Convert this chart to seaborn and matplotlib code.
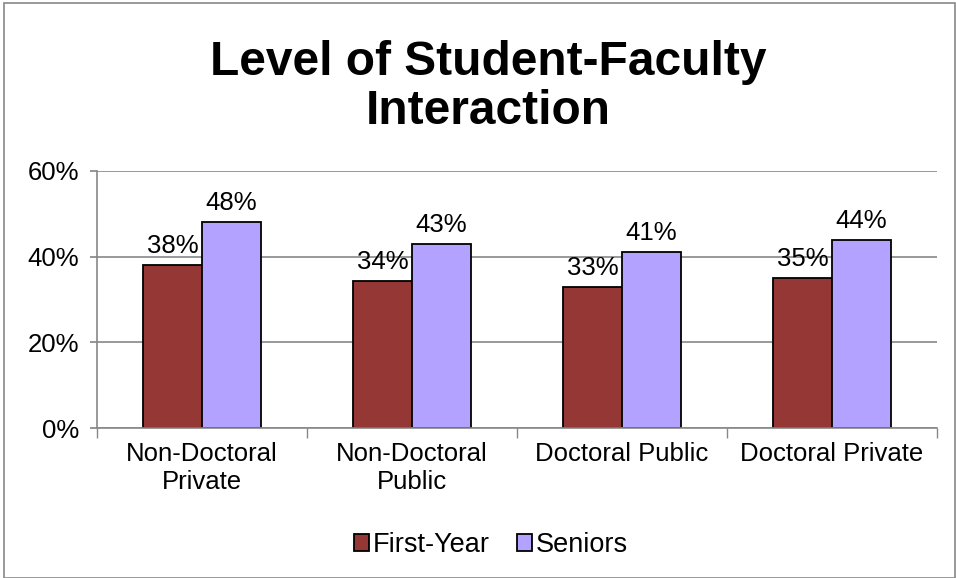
import matplotlib
matplotlib.use("Agg")
import matplotlib.pyplot as plt
import seaborn as sns
import pandas as pd
from matplotlib.patches import Rectangle

categories = ["Non-Doctoral\nPrivate", "Non-Doctoral\nPublic", "Doctoral Public", "Doctoral Private"]
first_year = [38, 34.4, 33, 35]
seniors = [48, 43, 41, 44]
groups = ["First-Year", "Seniors"]
colors = ["#953735", "#B3A2FF"]

df = pd.DataFrame({
    "category": categories * 2,
    "value": first_year + seniors,
    "group": [groups[0]] * 4 + [groups[1]] * 4,
})

sns.set_theme(style="white")
plt.rcParams['font.family'] = ['Liberation Sans', 'DejaVu Sans']
plt.rcParams['text.color'] = 'black'
plt.rcParams['xtick.color'] = 'black'
plt.rcParams['ytick.color'] = 'black'
plt.rcParams['xtick.labelcolor'] = 'black'
plt.rcParams['ytick.labelcolor'] = 'black'

fig = plt.figure(figsize=(9.56, 5.78), dpi=100)
ax = fig.add_axes([97 / 956, 1 - 428 / 578, 840 / 956, 257 / 578])

sns.barplot(data=df, x="category", y="value", hue="group", palette=colors, saturation=1,
            width=0.56, edgecolor="black", linewidth=1.3, ax=ax, legend=True)

for container in ax.containers:
    ax.bar_label(container, labels=[f"{v:.0f}%" for v in container.datavalues],
                 fontsize=18.5, padding=5, color="black")

ax.set_ylim(0, 60)
ax.set_xlim(-0.5, 3.5)
ax.set_yticks([0, 20, 40, 60])
ax.set_yticklabels(["0%", "20%", "40%", "60%"], fontsize=18.5)
ax.tick_params(axis="x", labelsize=18.5, length=0, pad=10)
ax.tick_params(axis="y", length=5, color="#888888", direction="out", left=True, pad=8)
ax.set_xticks([-0.5, 0.5, 1.5, 2.5, 3.5], minor=True)
ax.tick_params(axis="x", which="minor", length=7, color="#888888", bottom=True)
ax.yaxis.grid(True, color="#888888", linewidth=1.2)
ax.set_axisbelow(True)
ax.set_xlabel("")
ax.set_ylabel("")
for s in ["top", "right"]:
    ax.spines[s].set_visible(False)
for s in ["left", "bottom"]:
    ax.spines[s].set_color("#888888")
    ax.spines[s].set_linewidth(1.2)

fig.text(488 / 956, 1 - 87 / 578, "Level of Student-Faculty\nInteraction", ha="center", va="center",
         fontsize=34.5, fontweight="bold", linespacing=1.12, color="black")

handles, labels = ax.get_legend_handles_labels()
ax.legend(handles, labels, loc="center", bbox_to_anchor=(491 / 956, 1 - 545 / 578),
          bbox_transform=fig.transFigure, ncol=2, frameon=False, fontsize=19.5,
          handlelength=0.55, handleheight=0.55, handletextpad=0.15, columnspacing=1.0)

fig.patches.append(Rectangle((4 / 956, 0.0), 951 / 956, 1 - 3 / 578, transform=fig.transFigure,
                             fill=False, edgecolor="#888888", linewidth=1.2))

fig.savefig("out.png", dpi=100, facecolor="white")
